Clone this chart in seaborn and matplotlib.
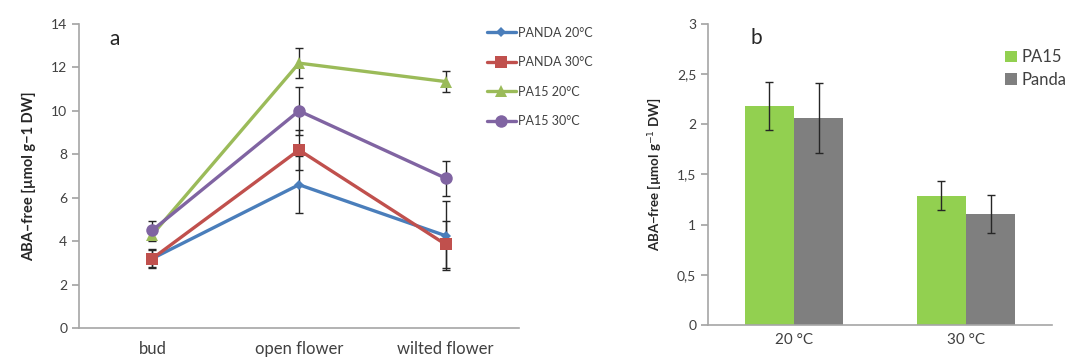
import numpy as np
import pandas as pd
import matplotlib
matplotlib.use('Agg')
import matplotlib.pyplot as plt
import seaborn as sns

sns.set_theme(style='white')
plt.rcParams['font.family'] = ['Lato', 'DejaVu Sans']

# ── data: panel a (lines) ──────────────────────────────────────────────────
STAGES = ['bud', 'open flower', 'wilted flower']
SERIES = ['PANDA 20°C', 'PANDA 30°C', 'PA15 20°C', 'PA15 30°C']
panda20 = [3.2, 6.6, 4.25]
panda30 = [3.2, 8.2, 3.85]
pa15_20 = [4.3, 12.2, 11.35]
pa15_30 = [4.5, 10.0, 6.9]
panda20_err = [0.4, 1.3, 1.6]
panda30_err = [0.45, 0.9, 1.1]
pa15_20_err = [0.3, 0.7, 0.5]
pa15_30_err = [0.45, 1.1, 0.8]

# ── data: panel b (bars) ───────────────────────────────────────────────────
TEMPS = ['20 °C', '30 °C']
GENOTYPES = ['PA15', 'Panda']
pa15_bar = [2.18, 1.29]
panda_bar = [2.06, 1.11]
pa15_bar_err = [0.24, 0.14]
panda_bar_err = [0.35, 0.19]

LINE_COLORS = {'PANDA 20°C': '#4A7EBB', 'PANDA 30°C': '#C0504D',
               'PA15 20°C': '#9BBB59', 'PA15 30°C': '#8064A2'}
MARKERS = {'PANDA 20°C': 'D', 'PANDA 30°C': 's', 'PA15 20°C': '^', 'PA15 30°C': 'o'}
MSIZE = {'PANDA 20°C': 5, 'PANDA 30°C': 9, 'PA15 20°C': 8, 'PA15 30°C': 9}
BAR_COLORS = {'PA15': '#92D050', 'Panda': '#7F7F7F'}
AXIS_GREY = '#A6A6A6'
TEXT_GREY = '#404040'

line_df = pd.DataFrame({
    'stage': STAGES * 4,
    'series': np.repeat(SERIES, 3),
    'value': panda20 + panda30 + pa15_20 + pa15_30,
    'err': panda20_err + panda30_err + pa15_20_err + pa15_30_err,
})
bar_df = pd.DataFrame({
    'temp': TEMPS * 2,
    'genotype': np.repeat(GENOTYPES, 2),
    'value': pa15_bar + panda_bar,
    'err': pa15_bar_err + panda_bar_err,
})

fig = plt.figure(figsize=(10.69, 3.61), dpi=100)
ax_a = fig.add_axes([0.0739, 0.0914, 0.4116, 0.842])
ax_b = fig.add_axes([0.6623, 0.0997, 0.3218, 0.834])

# ── panel a ────────────────────────────────────────────────────────────────
pos = {s: i for i, s in enumerate(STAGES)}
for name in SERIES:
    d = line_df[line_df['series'] == name]
    xs = d['stage'].map(pos)
    ax_a.errorbar(xs, d['value'], yerr=d['err'], fmt='none', ecolor='#262626',
                  elinewidth=1, capsize=3, capthick=1, zorder=1)
for name in SERIES:
    d = line_df[line_df['series'] == name].assign(x=lambda t: t['stage'].map(pos))
    sns.lineplot(data=d, x='x', y='value', ax=ax_a, color=LINE_COLORS[name],
                 marker=MARKERS[name], markersize=MSIZE[name], markeredgewidth=0,
                 linewidth=2.4, label=name, zorder=3)

ax_a.set_xlim(-0.5, 2.5)
ax_a.set_ylim(0, 14)
ax_a.set_yticks(range(0, 15, 2))
ax_a.set_xticks(range(3))
ax_a.set_xticklabels(STAGES, fontsize=12, color=TEXT_GREY)
ax_a.set_xticks([-0.5, 0.5, 1.5, 2.5], minor=True)
ax_a.tick_params(axis='x', which='major', length=0, pad=9)
ax_a.tick_params(axis='x', which='minor', length=5, color=AXIS_GREY, width=1)
ax_a.tick_params(axis='y', length=5, color=AXIS_GREY, labelsize=10,
                 labelcolor=TEXT_GREY, left=True)
ax_a.set_xlabel('')
ax_a.set_ylabel('ABA–free [µmol g−1 DW]', fontsize=10.5, fontweight='bold',
                color='#262626', labelpad=11)
ax_a.text(0.07, 0.985, 'a', transform=ax_a.transAxes, fontsize=15,
          color='#262626', va='top')
ax_a.legend(loc='upper left', bbox_to_anchor=(0.445, 0.957),
            bbox_transform=fig.transFigure, frameon=False, fontsize=9,
            handlelength=2.3, handletextpad=0.15, labelspacing=1.4,
            labelcolor=TEXT_GREY)

# ── panel b ────────────────────────────────────────────────────────────────
sns.barplot(data=bar_df, x='temp', y='value', hue='genotype', order=TEMPS,
            hue_order=GENOTYPES, palette=BAR_COLORS, width=0.57,
            errorbar=None, saturation=1, ax=ax_b, linewidth=0)
for cont, g in zip(ax_b.containers, GENOTYPES):
    d = bar_df[bar_df['genotype'] == g].set_index('temp').loc[TEMPS]
    xs = [p.get_x() + p.get_width() / 2 for p in cont.patches]
    ax_b.errorbar(xs, d['value'], yerr=d['err'], fmt='none', ecolor='#262626',
                  elinewidth=1, capsize=3, capthick=1, zorder=3)

ax_b.set_xlim(-0.5, 1.5)
ax_b.set_ylim(0, 3)
ax_b.set_yticks(np.arange(0, 3.01, 0.5))
ax_b.set_yticklabels(['0', '0,5', '1', '1,5', '2', '2,5', '3'])
ax_b.set_xticks([-0.5, 0.5, 1.5], minor=True)
ax_b.tick_params(axis='x', which='major', length=0, pad=6, labelsize=11,
                 labelcolor=TEXT_GREY)
ax_b.tick_params(axis='x', which='minor', length=5, color=AXIS_GREY, width=1)
ax_b.tick_params(axis='y', length=5, color=AXIS_GREY, labelsize=10,
                 labelcolor=TEXT_GREY, left=True)
ax_b.set_xlabel('')
ax_b.set_ylabel('ABA−free [µmol g$^{-1}$ DW]', fontsize=9.5, fontweight='bold',
                color='#262626', labelpad=10)
ax_b.text(0.125, 0.985, 'b', transform=ax_b.transAxes, fontsize=15,
          color='#262626', va='top')
ax_b.legend(loc='upper left', bbox_to_anchor=(0.926, 0.905),
            bbox_transform=fig.transFigure, frameon=False, fontsize=12,
            handlelength=0.7, handleheight=0.7, handletextpad=0.3,
            labelspacing=0.4, labelcolor=TEXT_GREY)

for ax in (ax_a, ax_b):
    sns.despine(ax=ax)
    for side in ('left', 'bottom'):
        ax.spines[side].set_color(AXIS_GREY)
        ax.spines[side].set_linewidth(1.2)

fig.savefig('out.png', dpi=100)
